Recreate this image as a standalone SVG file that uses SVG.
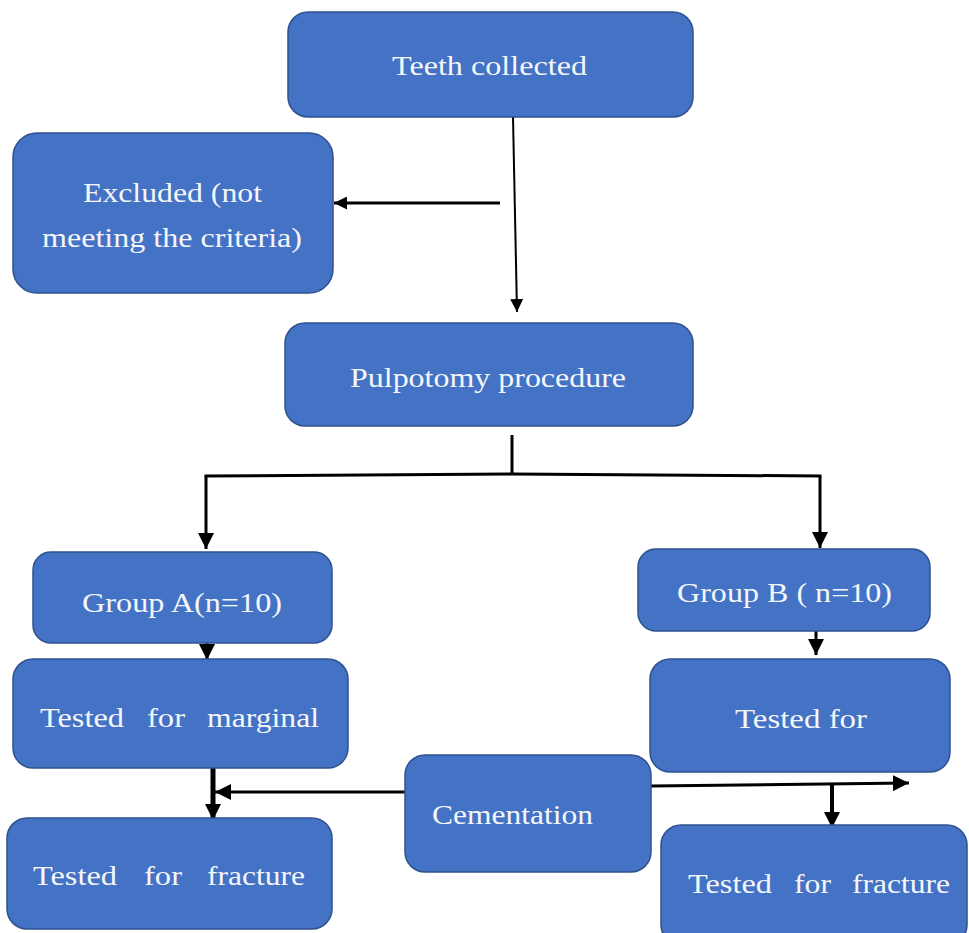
<svg xmlns="http://www.w3.org/2000/svg" width="969" height="933" viewBox="0 0 969 933">
<style>
.box{fill:#4472C4;stroke:#2F528F;stroke-width:1.5}
.t{font-family:"Liberation Serif","Times New Roman",serif;font-size:28px;fill:#F4F6FA}
.c{fill:none;stroke:#000}
</style>
<defs>
<marker id="ah" markerUnits="userSpaceOnUse" markerWidth="16" markerHeight="16" refX="14" refY="7" orient="auto" viewBox="0 0 14 14">
<path d="M0,0 L14,7 L0,14 z" fill="#000"/>
</marker>
<marker id="ahs" markerUnits="userSpaceOnUse" markerWidth="13" markerHeight="13" refX="12" refY="6" orient="auto" viewBox="0 0 12 12">
<path d="M0,0 L12,6 L0,12 z" fill="#000"/>
</marker>
</defs>
<rect width="969" height="933" fill="#fff"/>
<g id="connectors">
<path class="c" stroke-width="2" d="M513,117 L517,312" marker-end="url(#ahs)"/>
<path class="c" stroke-width="3" d="M500,203 L334,203" marker-end="url(#ahs)"/>
<path class="c" stroke-width="3" d="M512,435 L512,474"/>
<path class="c" stroke-width="3" stroke-linecap="square" d="M206,476 L512,474 L820,476"/>
<path class="c" stroke-width="3" d="M206,476 L206,549" marker-end="url(#ah)"/>
<path class="c" stroke-width="3" d="M820,476 L820,548" marker-end="url(#ah)"/>
<path class="c" stroke-width="3" d="M207,632 L207,660" marker-end="url(#ah)"/>
<path class="c" stroke-width="3" d="M816,628 L816,655" marker-end="url(#ah)"/>
<path class="c" stroke-width="5" d="M213,765 L213,820" marker-end="url(#ah)"/>
<path class="c" stroke-width="3" d="M412,792 L215,792" marker-end="url(#ah)"/>
<path class="c" stroke-width="3" d="M651,786 L909,783" marker-end="url(#ah)"/>
<path class="c" stroke-width="4" d="M832,784 L832,828" marker-end="url(#ah)"/>
</g>
<g id="teeth">
<rect class="box" x="288" y="12" width="405" height="105" rx="20"/>
<text class="t" x="392" y="75" textLength="195" lengthAdjust="spacingAndGlyphs">Teeth collected</text>
</g>
<g id="excluded">
<rect class="box" x="13" y="133" width="320" height="160" rx="24"/>
<text class="t" x="83" y="202" textLength="179" lengthAdjust="spacingAndGlyphs">Excluded (not</text>
<text class="t" x="42" y="247" textLength="260" lengthAdjust="spacingAndGlyphs">meeting the criteria)</text>
</g>
<g id="pulpotomy">
<rect class="box" x="285" y="323" width="408" height="103" rx="20"/>
<text class="t" x="350" y="387" textLength="276" lengthAdjust="spacingAndGlyphs">Pulpotomy procedure</text>
</g>
<g id="groupA">
<rect class="box" x="33" y="552" width="299" height="91" rx="18"/>
<text class="t" x="82" y="612" textLength="200" lengthAdjust="spacingAndGlyphs">Group A(n=10)</text>
</g>
<g id="groupB">
<rect class="box" x="638" y="549" width="292" height="82" rx="18"/>
<text class="t" x="677" y="602" textLength="215" lengthAdjust="spacingAndGlyphs">Group B ( n=10)</text>
</g>
<g id="marginal">
<rect class="box" x="13" y="659" width="335" height="109" rx="20"/>
<text class="t" y="727"><tspan x="40" textLength="84" lengthAdjust="spacingAndGlyphs">Tested</tspan><tspan x="147" textLength="38" lengthAdjust="spacingAndGlyphs">for</tspan><tspan x="207" textLength="112" lengthAdjust="spacingAndGlyphs">marginal</tspan></text>
</g>
<g id="fractureA">
<rect class="box" x="7" y="818" width="325" height="111" rx="20"/>
<text class="t" y="885"><tspan x="33" textLength="84" lengthAdjust="spacingAndGlyphs">Tested</tspan><tspan x="144" textLength="38" lengthAdjust="spacingAndGlyphs">for</tspan><tspan x="207" textLength="98" lengthAdjust="spacingAndGlyphs">fracture</tspan></text>
</g>
<g id="cementation">
<rect class="box" x="405" y="755" width="246" height="117" rx="20"/>
<text class="t" x="432" y="824" textLength="161" lengthAdjust="spacingAndGlyphs">Cementation</text>
</g>
<g id="testedB">
<rect class="box" x="650" y="659" width="300" height="113" rx="20"/>
<text class="t" x="735" y="728" textLength="132" lengthAdjust="spacingAndGlyphs">Tested for</text>
</g>
<g id="fractureB">
<rect class="box" x="661" y="825" width="306" height="120" rx="20"/>
<text class="t" y="893"><tspan x="688" textLength="84" lengthAdjust="spacingAndGlyphs">Tested</tspan><tspan x="794" textLength="37" lengthAdjust="spacingAndGlyphs">for</tspan><tspan x="852" textLength="98" lengthAdjust="spacingAndGlyphs">fracture</tspan></text>
</g>
</svg>
